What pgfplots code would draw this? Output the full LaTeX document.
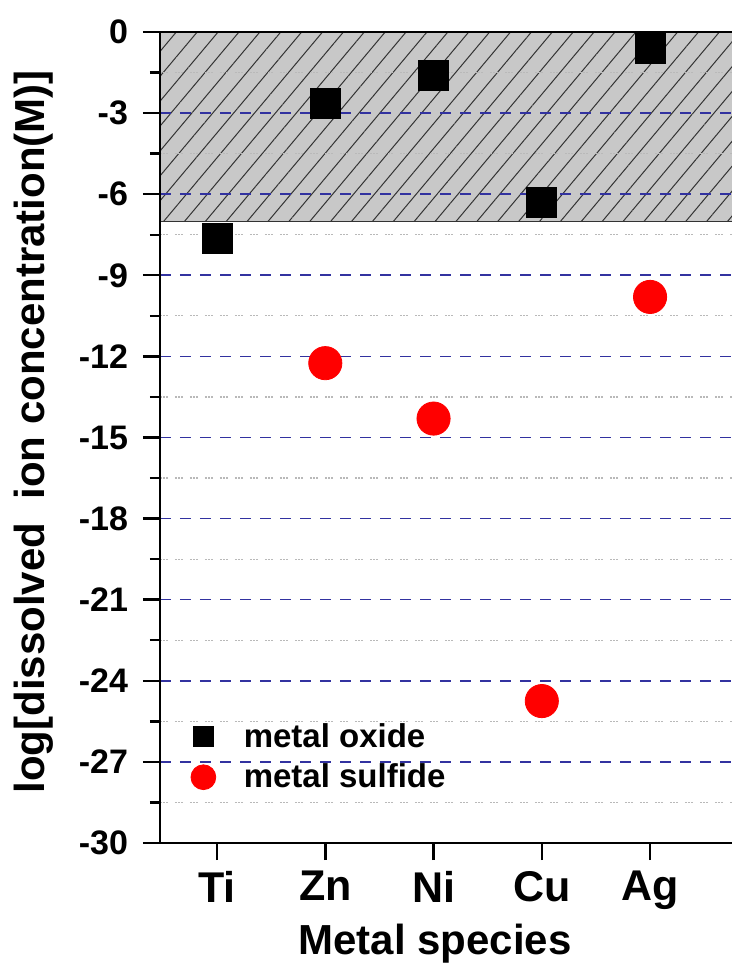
\documentclass[border=0pt]{standalone}
\usepackage{fontspec}
\setmainfont{Liberation Sans}
\usepackage{pgfplots}
\pgfplotsset{compat=1.18}
\usetikzlibrary{patterns.meta}
\definecolor{gridblue}{RGB}{50,50,160}
\definecolor{hatchgray}{RGB}{200,200,200}
\begin{document}
\begin{tikzpicture}
\begin{axis}[
  set layers,
  scale only axis,
  width=286pt, height=405.5pt,
  xmin=0.473, xmax=5.757,
  ymin=-30, ymax=0,
  axis x line*=bottom,
  axis y line*=left,
  y axis line style={-},
  x axis line style={-},
  axis line style={line width=1.4pt},
  xtick={1,2,3,4,5},
  xticklabels={Ti,Zn,Ni,Cu,Ag},
  ytick={0,-3,-6,-9,-12,-15,-18,-21,-24,-27,-30},
  minor ytick={-1.5,-4.5,-7.5,-10.5,-13.5,-16.5,-19.5,-22.5,-25.5,-28.5},
  xtick align=outside,
  ytick align=outside,
  major tick length=8.5pt,
  minor tick length=5pt,
  xtick style={draw=black, line width=1.2pt},
  ytick style={draw=black, line width=1.2pt},
  ymajorgrids, yminorgrids,
  major grid style={gridblue, line width=0.8pt, dash pattern=on 5.5pt off 4.5pt},
  minor grid style={gray!55, line width=0.6pt, dash pattern=on 0.8pt off 0.8pt on 0.8pt off 0.8pt on 0.8pt off 3.5pt},
  /pgf/number format/assume math mode=true,
  yticklabel style={font=\fontsize{17}{20}\selectfont\bfseries, xshift=-4pt},
  xticklabel style={font=\fontsize{21.5}{24}\selectfont\bfseries, yshift=-2pt},
  xlabel={Metal species},
  xlabel style={font=\fontsize{21}{25}\selectfont\bfseries, at={(axis description cs:0.481,-0.138)}, anchor=base},
  ylabel={log[dissolved\ \ ion concentration(M)]},
  ylabel style={font=\fontsize{21}{24}\selectfont\bfseries, at={(axis description cs:-0.221,0.507)}, anchor=center},
  clip=false,
  legend style={draw=none, fill=none, at={(axis description cs:0.043,0.158)}, anchor=north west,
    font=\fontsize{16.5}{19}\selectfont\bfseries, row sep=2.8pt, column sep=12pt},
  legend cell align=left,
]
\begin{pgfonlayer}{axis background}
\fill[hatchgray] (axis cs:0.473,-7) rectangle (axis cs:5.757,0);
\path[pattern={Lines[angle=50, distance=8pt, line width=0.5pt]}, pattern color=black!80] (axis cs:0.473,-7) rectangle (axis cs:5.757,0);
\draw[black!80, line width=0.7pt] (axis cs:0.473,-7) -- (axis cs:5.757,-7);
\end{pgfonlayer}
\draw[line width=1.4pt] (axis cs:0.473,0) -- (axis cs:5.757,0);
\coordinate (t1) at (axis cs:1,-30);
\coordinate (t2) at (axis cs:2,-30);
\coordinate (t3) at (axis cs:3,-30);
\coordinate (t4) at (axis cs:4,-30);
\coordinate (t5) at (axis cs:5,-30);
\addlegendimage{only marks, mark=square*, mark size=5pt, black}
\addlegendentry{metal oxide}
\addlegendimage{only marks, mark=*, mark size=6.2pt, red, mark options={fill=red, draw=red}}
\addlegendentry{metal sulfide}
\addplot[only marks, mark=square*, mark size=7.5pt, black, forget plot] coordinates {
 (1,-7.65) (2,-2.65) (3,-1.6) (4,-6.3) (5,-0.6)
};
\addplot[only marks, mark=*, mark size=8.3pt, red, mark options={fill=red, draw=red}, forget plot] coordinates {
 (2,-12.25) (3,-14.3) (4,-24.75) (5,-9.8)
};
\end{axis}
\draw[black, line width=1.3pt] (t1) -- ++(0,-8.5pt);
\draw[black, line width=1.3pt] (t2) -- ++(0,-8.5pt);
\draw[black, line width=1.3pt] (t3) -- ++(0,-8.5pt);
\draw[black, line width=1.3pt] (t4) -- ++(0,-8.5pt);
\draw[black, line width=1.3pt] (t5) -- ++(0,-8.5pt);
\pgfresetboundingbox
\path (-80pt,-60.5pt) rectangle (286pt,421.5pt);
\end{tikzpicture}
\end{document}
